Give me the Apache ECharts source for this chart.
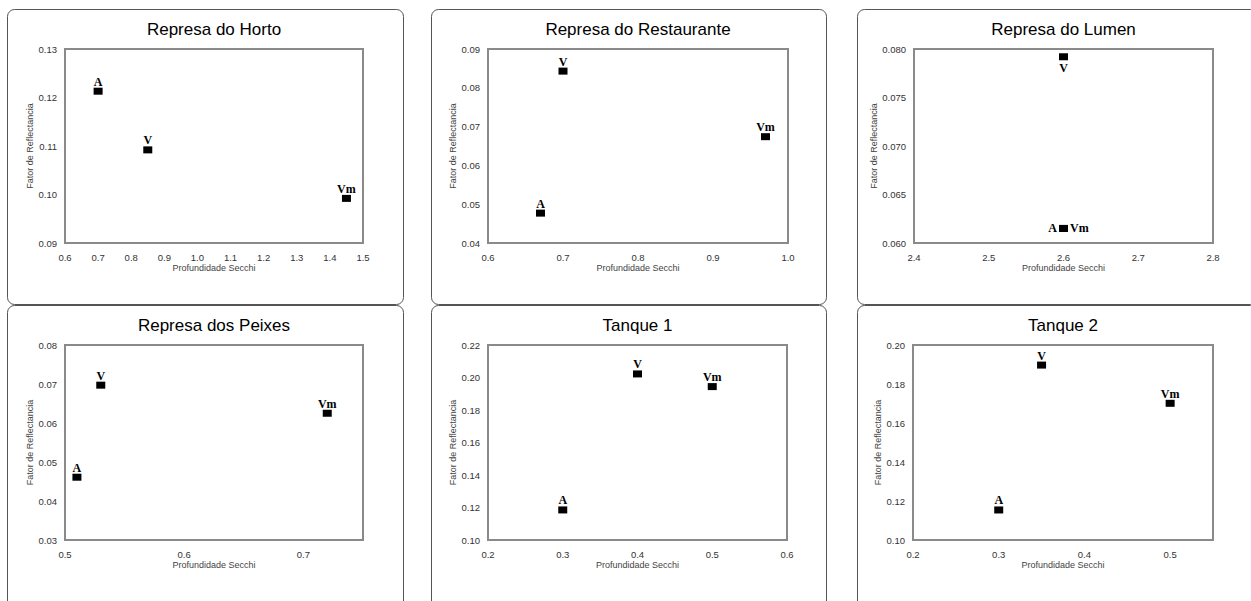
<!DOCTYPE html>
<html>
<head>
<meta charset="utf-8">
<script src="https://cdn.jsdelivr.net/npm/echarts@6/dist/echarts.min.js"></script>
<style>
html,body{margin:0;padding:0;background:#fff;}
#c{width:1251px;height:601px;}
</style>
</head>
<body>
<div id="c"></div>
<script>
// ---- data ----
const panelTitles = ['Represa do Horto', 'Represa do Restaurante', 'Represa do Lumen', 'Represa dos Peixes', 'Tanque 1', 'Tanque 2'];
const pointLabels = ['A', 'V', 'Vm'];

const hortoX = [0.70, 0.85, 1.45];
const hortoY = [0.1213, 0.1092, 0.0992];

const restauranteX = [0.67, 0.70, 0.97];
const restauranteY = [0.0477, 0.0843, 0.0674];

const lumenX = [2.60, 2.60, 2.60];
const lumenY = [0.0615, 0.0792, 0.0615];

const peixesX = [0.51, 0.53, 0.72];
const peixesY = [0.0461, 0.0697, 0.0625];

const tanque1X = [0.30, 0.40, 0.50];
const tanque1Y = [0.1185, 0.2022, 0.1944];

const tanque2X = [0.30, 0.35, 0.50];
const tanque2Y = [0.1154, 0.1897, 0.1701];

// axis ranges [min, max, interval]
const xRanges = [[0.6, 1.5, 0.1], [0.6, 1.0, 0.1], [2.4, 2.8, 0.1], [0.5, 0.75, 0.1], [0.2, 0.6, 0.1], [0.2, 0.55, 0.1]];
const yRanges = [[0.09, 0.13, 0.01], [0.04, 0.09, 0.01], [0.060, 0.080, 0.005], [0.03, 0.08, 0.01], [0.10, 0.22, 0.02], [0.10, 0.20, 0.02]];
const yDecimals = [2, 2, 3, 2, 2, 2];
const xAxisName = 'Profundidade Secchi';
const yAxisName = 'Fator de Reflectancia';

// ---- layout ----
const grids = [
  {left: 65, top: 49, width: 298, height: 194},
  {left: 488, top: 49, width: 300, height: 194},
  {left: 914, top: 49, width: 299, height: 194},
  {left: 65, top: 345, width: 298, height: 195},
  {left: 488, top: 345, width: 299, height: 195},
  {left: 913, top: 345, width: 300, height: 195}
];
const boxes = [
  [7, 9, 396, 295], [431, 9, 395, 295], [857, 9, 400, 295],
  [7, 305, 396, 310], [431, 305, 395, 310], [857, 305, 400, 310]
];
const xs = [hortoX, restauranteX, lumenX, peixesX, tanque1X, tanque2X];
const ys = [hortoY, restauranteY, lumenY, peixesY, tanque1Y, tanque2Y];
const lumenLabelPos = ['left', 'bottom', 'right'];

const chart = echarts.init(document.getElementById('c'), null, {renderer: 'svg'});

const option = {
  backgroundColor: '#fff',
  animation: false,
  title: [], grid: [], xAxis: [], yAxis: [], series: [],
  graphic: boxes.map(b => ({
    type: 'rect', z: -1, silent: true,
    shape: {x: b[0] + 0.5, y: b[1] + 0.5, width: b[2], height: b[3], r: 7},
    style: {fill: 'none', stroke: '#555', lineWidth: 1}
  }))
};

for (let i = 0; i < 6; i++) {
  const g = grids[i];
  option.grid.push(Object.assign({show: true, borderColor: '#8a8a8a', borderWidth: 2, backgroundColor: 'transparent', containLabel: false}, g));
  option.title.push({
    text: panelTitles[i],
    left: g.left + g.width / 2,
    top: g.top - 28,
    textAlign: 'center',
    padding: 0,
    textStyle: {fontFamily: 'Liberation Sans', fontSize: 17, fontWeight: 'normal', color: '#000'}
  });
  const xr = xRanges[i], yr = yRanges[i];
  option.xAxis.push({
    type: 'value', gridIndex: i, min: xr[0], max: xr[1], interval: xr[2],
    name: xAxisName, nameLocation: 'middle', nameGap: 20,
    nameTextStyle: {fontFamily: 'Liberation Sans', fontSize: 9, color: '#444'},
    axisLine: {show: false}, axisTick: {show: false}, splitLine: {show: false},
    axisLabel: {
      fontFamily: 'Liberation Sans', fontSize: 9.5, color: '#333', margin: 9,
      showMaxLabel: (Math.round(xr[1] / xr[2] * 1000) % 1000 === 0),
      formatter: v => v.toFixed(1)
    }
  });
  const dec = yDecimals[i];
  option.yAxis.push({
    type: 'value', gridIndex: i, min: yr[0], max: yr[1], interval: yr[2],
    name: yAxisName, nameLocation: 'middle', nameGap: 27,
    nameTextStyle: {fontFamily: 'Liberation Sans', fontSize: 9, color: '#444'},
    axisLine: {show: false}, axisTick: {show: false}, splitLine: {show: false},
    axisLabel: {fontFamily: 'Liberation Sans', fontSize: 9.5, color: '#333', margin: 8, formatter: v => v.toFixed(dec)}
  });
  const data = xs[i].map((x, k) => {
    const d = {value: [x, ys[i][k]], name: pointLabels[k]};
    if (i === 2) d.label = {position: lumenLabelPos[k], distance: 2};
    return d;
  });
  option.series.push({
    type: 'scatter', xAxisIndex: i, yAxisIndex: i,
    symbol: 'rect', symbolSize: [9, 7],
    itemStyle: {color: '#000', opacity: 1},
    label: {
      show: true, position: 'top', distance: 0,
      formatter: p => p.name,
      fontFamily: 'Liberation Serif', fontWeight: 'bold', fontSize: 12, color: '#000'
    },
    data: data
  });
}

chart.setOption(option);
</script>
</body>
</html>
